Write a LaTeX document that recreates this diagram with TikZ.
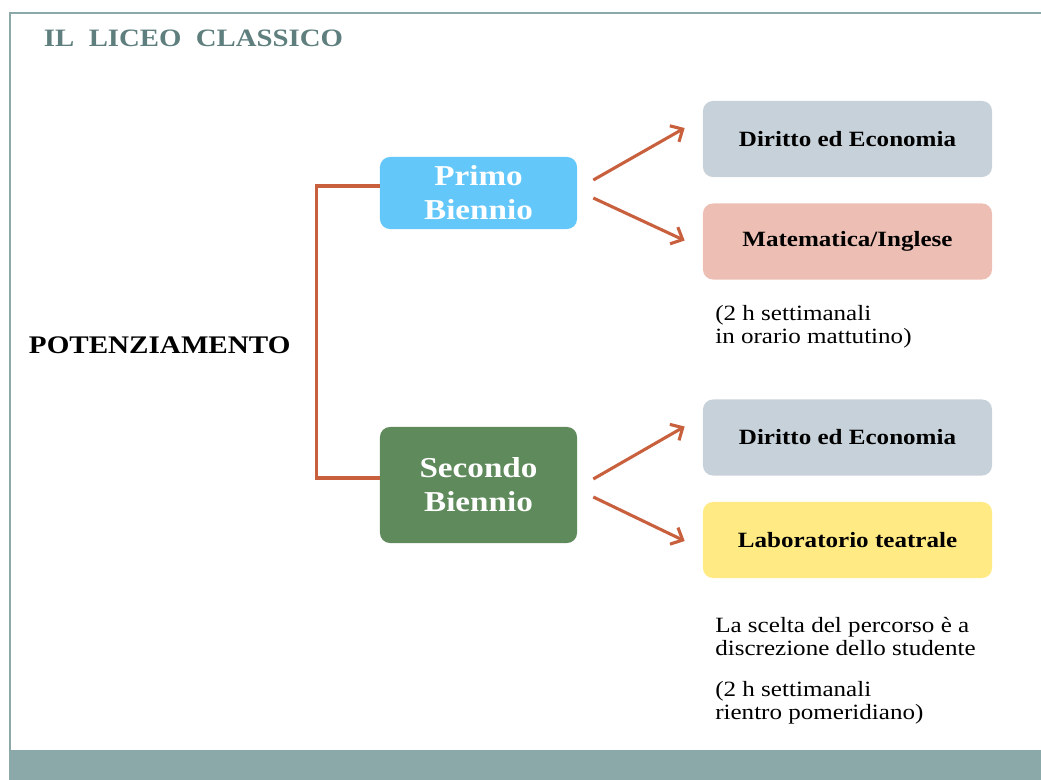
\documentclass[tikz,border=0pt]{standalone}
\usepackage{fontspec}
\setmainfont{Liberation Serif}[FakeStretch=1.15]
\usetikzlibrary{calc,arrows.meta}
\definecolor{frameteal}{HTML}{8AA9A8}
\definecolor{titleteal}{HTML}{5F7F7E}
\definecolor{rust}{HTML}{C8603E}
\definecolor{skyblue}{HTML}{63C8F9}
\definecolor{leafgreen}{HTML}{5F8A5B}
\definecolor{slategrey}{HTML}{C7D1D9}
\definecolor{salmon}{HTML}{EDBFB4}
\definecolor{butter}{HTML}{FFEA84}
\newcommand{\notefont}{\fontsize{15.5}{16.3}\selectfont}

\begin{document}
\begin{tikzpicture}[x=0.025cm,y=-0.025cm,
	stage/.style={rounded corners=0.25cm, minimum width=4.925cm, inner sep=0pt,
		align=center, text=white, font=\fontsize{20.5}{24}\selectfont\bfseries},
	choice/.style={fill=slategrey, rounded corners=0.25cm, minimum width=7.225cm,
		minimum height=1.9cm, inner sep=0pt, font=\fontsize{15.5}{18}\selectfont\bfseries},
	note/.style={anchor=north west, inner sep=0pt, align=left, font=\notefont},
	link/.style={rust, line width=2.2pt},
	arr/.style={link, -{Straight Barb[length=2.4mm,width=4.6mm,line width=2.2pt]}}]
	\useasboundingbox (0,0) rectangle (1041,780);
	% frame and footer band
	\fill[frameteal] (9,750) rectangle (1041,780);
	\draw[frameteal, line width=1.2pt] (10,750) -- (10,13) -- (1041,13);
	\node[anchor=west, text=titleteal, font=\fontsize{17.8}{22}\selectfont\bfseries] (title) at (39,38) {IL\ \ LICEO\ \ CLASSICO};

	\node[anchor=west, font=\fontsize{18}{22}\selectfont\bfseries] (pot) at (24,345) {POTENZIAMENTO};

	\node[stage, fill=skyblue, minimum height=1.8cm] (primo) at (478.5,193) {Primo\\Biennio};
	\node[stage, fill=leafgreen, minimum height=2.9cm] (secondo) at (478.5,485) {Secondo\\Biennio};

	\node[choice] (dir1) at (847.5,139) {Diritto ed Economia};
	\node[choice, fill=salmon] (mat) at (847.5,241.5) {Matematica/Inglese};
	\node[choice] (dir2) at (847.5,437.5) {Diritto ed Economia};
	\node[choice, fill=butter] (lab) at (847.5,540) {Laboratorio teatrale};

	\node[note] (mattino) at (715,305) {(2 h settimanali\\in orario mattutino)};
	\node[note] (scelta) at (715,617) {La scelta del percorso è a\\discrezione dello studente};
	\node[note] (rientro) at (715,681) {(2 h settimanali\\rientro pomeridiano)};

	\draw[link] ($(primo.west)+(0,-7)$) -- ++(-63,0) |- ($(secondo.west)+(0,-7)$);

	\draw[arr] ($(primo.east)+(16,-13)$) -- ($(dir1.west)+(-18,-11)$);
	\draw[arr] ($(primo.east)+(16,5)$) -- ($(mat.west)+(-18,-1)$);
	\draw[arr] ($(secondo.east)+(16,-6)$) -- ($(dir2.west)+(-18,-11)$);
	\draw[arr] ($(secondo.east)+(16,12)$) -- ($(lab.west)+(-18,1)$);
\end{tikzpicture}
\end{document}
